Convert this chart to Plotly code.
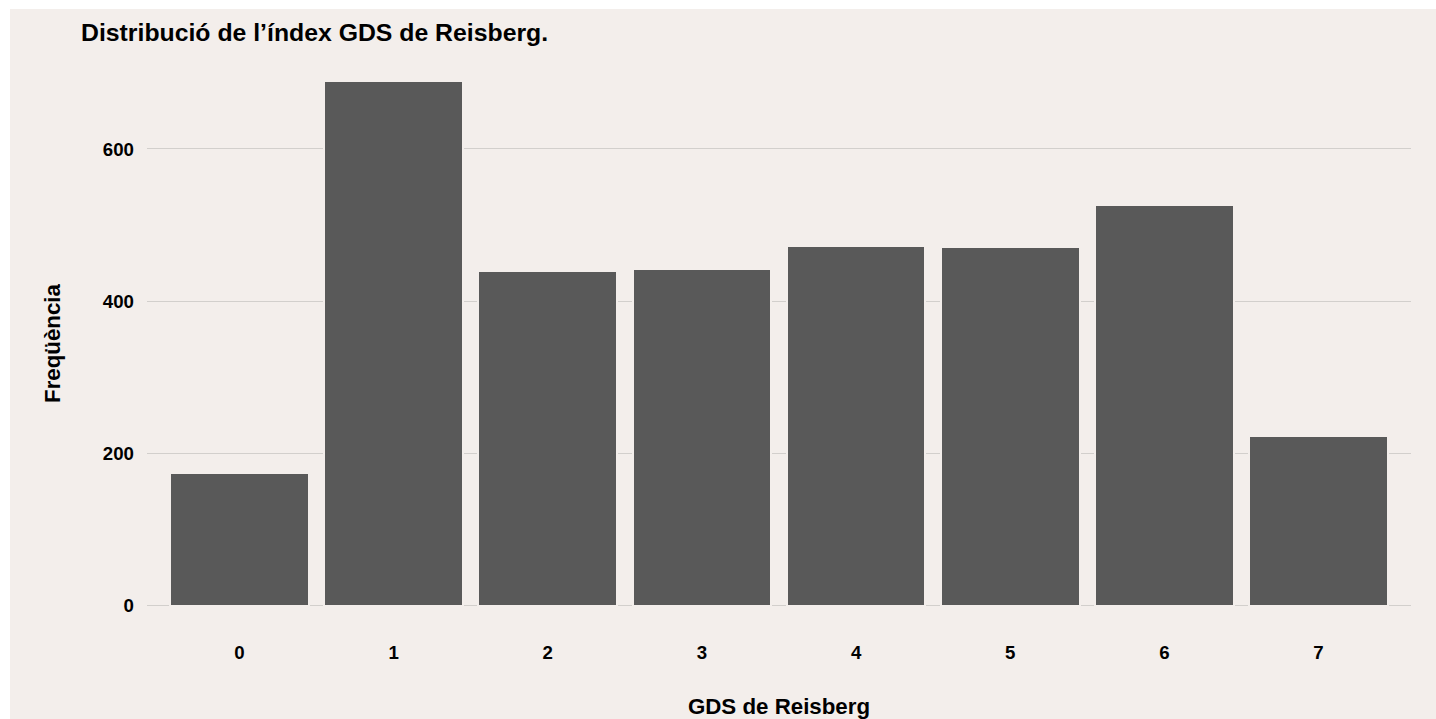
import plotly.graph_objects as go

# Frequency of each GDS (Reisberg) stage
gds_stages = ["0", "1", "2", "3", "4", "5", "6", "7"]
frequencies = [175, 689, 440, 442, 473, 471, 526, 223]
y_tick_values = [0, 200, 400, 600]
y_tick_labels = ["0", "200", "400", "600"]

BG = "#F3EEEB"
BAR = "#595959"
GRID = "#D2CFCC"
FONT = "Liberation Sans, Arial, sans-serif"

W, H = 1436, 719
ML, MR, MT, MB = 147, 25, 55, 87
pw = W - ML - MR
ph = H - MT - MB

fig = go.Figure(
    go.Bar(
        x=gds_stages,
        y=frequencies,
        width=0.9,
        marker=dict(color=BAR, line=dict(color=BG, width=2)),
        hoverinfo="x+y",
    )
)

# page background panel, inset 10px from the left and 9px from the top
fig.add_shape(
    type="rect",
    xref="paper", yref="paper",
    x0=(10 - ML) / pw, x1=(W - ML + 5) / pw,
    y0=-(MB + 5) / ph, y1=(ph + MT - 9) / ph,
    fillcolor=BG, line=dict(width=0), layer="below",
)

fig.update_layout(
    width=W,
    height=H,
    margin=dict(l=ML, r=MR, t=MT, b=MB, autoexpand=False),
    paper_bgcolor="white",
    plot_bgcolor=BG,
    showlegend=False,
    bargap=0,
    font=dict(family=FONT, color="black"),
    title=dict(
        text="Distribució de l’índex GDS de Reisberg.",
        font=dict(family=FONT, size=24.8, color="black", weight="bold"),
        xref="container", x=81 / W, xanchor="left",
        yref="container", y=1 - 32 / H, yanchor="middle",
        automargin=False,
    ),
    xaxis=dict(
        type="category",
        range=[-0.6, 7.6],
        automargin=False,
        showgrid=False,
        zeroline=False,
        showline=False,
        ticks="",
        tickfont=dict(family=FONT, size=18.67, color="black", weight="bold"),
        ticklabelstandoff=7,
        title=dict(
            text="GDS de Reisberg",
            font=dict(family=FONT, size=22.3, color="black", weight="bold"),
            standoff=37,
        ),
    ),
    yaxis=dict(
        range=[-34.45, 723.45],
        automargin=False,
        tickmode="array",
        tickvals=y_tick_values,
        ticktext=y_tick_labels,
        showgrid=True,
        gridcolor=GRID,
        gridwidth=1.2,
        zeroline=False,
        showline=False,
        ticks="",
        tickfont=dict(family=FONT, size=18.67, color="black", weight="bold"),
        ticklabelstandoff=12,
        title=dict(
            text="Freqüència",
            font=dict(family=FONT, size=22.3, color="black", weight="bold"),
            standoff=36,
        ),
    ),
)

fig.write_html("out.html")
